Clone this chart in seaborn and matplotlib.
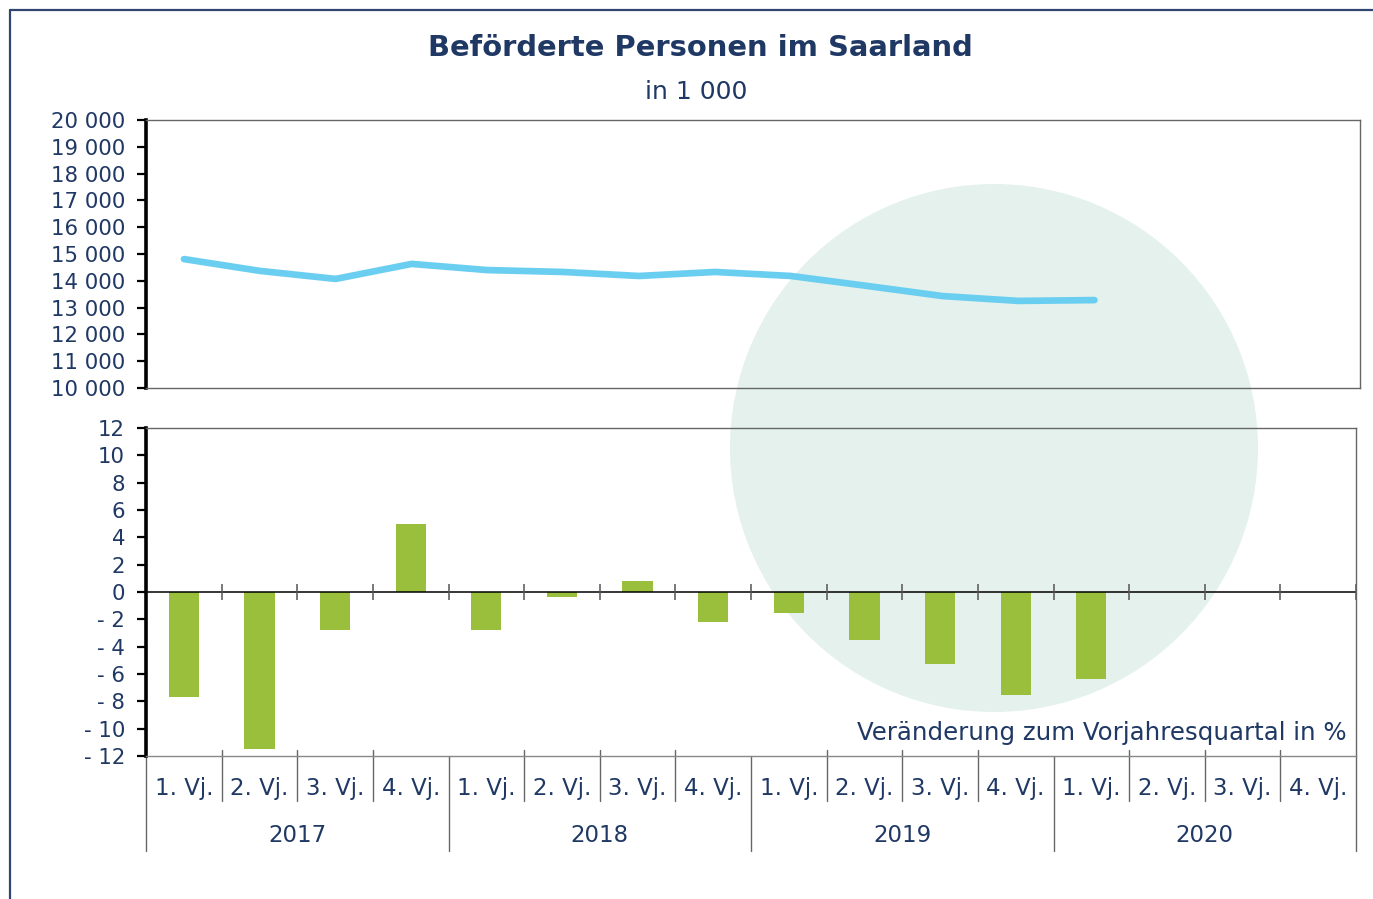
import numpy as np
import pandas as pd
import matplotlib
matplotlib.use("Agg")
import matplotlib.pyplot as plt
import matplotlib.transforms as mtransforms
from matplotlib.patches import Ellipse
from matplotlib.lines import Line2D
import seaborn as sns

# ---- data ----
years = ["2017", "2018", "2019", "2020"]
quarters = ["1. Vj.", "2. Vj.", "3. Vj.", "4. Vj."]
passengers = [14810, 14370, 14070, 14630, 14400, 14330, 14180, 14330,
              14180, 13810, 13430, 13250, 13280]
change_pct = [-7.7, -11.5, -2.8, 5.0, -2.8, -0.4, 0.8, -2.2,
              -1.5, -3.5, -5.3, -7.5, -6.4]
y_ticks_top = list(range(10000, 20001, 1000))
y_ticks_bottom = list(range(-12, 13, 2))
title = "Beförderte Personen im Saarland"
subtitle = "in 1 000"
note = "Veränderung zum Vorjahresquartal in %"

periods = [f"{y} {q}" for y in years for q in quarters]
n = len(periods)
line_df = pd.DataFrame({"pos": np.arange(len(passengers)), "value": passengers})
bar_df = pd.DataFrame({"period": periods[:len(change_pct)], "change": change_pct})

# ---- style ----
sns.set_style("white")
plt.rcParams["font.family"] = ["DejaVu Sans"]
NAVY = "#1f3864"
BAR = "#9abf3c"
LINE = "#6acef0"
CIRCLE = "#e4f1ec"
GREY = "#666666"

W, H = 1373, 899
fig = plt.figure(figsize=(W / 100, H / 100), dpi=100)
fig.patch.set_facecolor("white")


def fx(px):
    return px / W


def fy(py):
    return 1 - py / H


# decorative circle behind
circ = Ellipse((fx(994), fy(448)), width=2 * 264 / W, height=2 * 264 / H,
               transform=fig.transFigure, facecolor=CIRCLE, edgecolor="none", zorder=0.5)
fig.add_artist(circ)

# outer frame (top & left)
fig.add_artist(Line2D([fx(9.5), fx(9.5)], [-0.1, fy(9.5)], color="#2f4670", lw=1.6,
                      transform=fig.transFigure, zorder=3))
fig.add_artist(Line2D([fx(9.5), 1.1], [fy(9.5), fy(9.5)], color="#2f4670", lw=1.6,
                      transform=fig.transFigure, zorder=3))

ax1 = fig.add_axes([fx(146), fy(388), fx(1360 - 146), (388 - 120) / H])
ax2 = fig.add_axes([fx(146), fy(756), fx(1356 - 146), (756 - 428) / H])
for ax in (ax1, ax2):
    ax.set_zorder(1)
    ax.patch.set_alpha(0)

# ---- top: line ----
sns.lineplot(data=line_df, x="pos", y="value", ax=ax1, color=LINE, linewidth=4.8,
             solid_capstyle="round", solid_joinstyle="round")
ax1.set_xlim(-0.5, n - 0.5)
ax1.set_ylim(10000, 20000)
ax1.set_yticks(y_ticks_top)
ax1.set_yticklabels([f"{v:,}".replace(",", " ") for v in y_ticks_top])
ax1.set_xticks([])
ax1.set_xlabel("")
ax1.set_ylabel("")

# ---- bottom: bars ----
sns.barplot(data=bar_df, x="period", y="change", order=periods, ax=ax2, color=BAR,
            saturation=1, width=0.4, errorbar=None, edgecolor="none")
ax2.set_xlim(-0.5, n - 0.5)
ax2.set_ylim(-12, 12)
ax2.set_yticks(y_ticks_bottom)
ax2.set_yticklabels([f"- {abs(v)}" if v < 0 else f"{v}" for v in y_ticks_bottom])
ax2.set_xticks([])
ax2.set_xlabel("")
ax2.set_ylabel("")
ax2.axhline(0, color="black", lw=1.1, zorder=3)
bounds = np.arange(n) + 0.5
ax2.vlines(bounds, -0.6, 0.6, color="#555555", lw=1.1, zorder=3)

for ax in (ax1, ax2):
    for side in ("top", "right", "bottom"):
        ax.spines[side].set_color(GREY)
        ax.spines[side].set_linewidth(1.0)
    ax.spines["left"].set_color("black")
    ax.spines["left"].set_linewidth(2.6)
    ax.tick_params(axis="y", direction="out", length=6.5, width=1.6, color="black",
                   labelcolor=NAVY, labelsize=15.3, pad=8.5, left=True)
ax2.spines["bottom"].set_color("#888888")

# category axis (two levels)
trans = mtransforms.blended_transform_factory(ax2.transData, ax2.transAxes)
axh = 756 - 428


def ay(py):
    return (756 - py) / axh


labels_q = [q for y in years for q in quarters]
for i, lab in enumerate(labels_q):
    ax2.text(i, ay(789), lab, transform=trans, ha="center", va="center",
             fontsize=16.5, color=NAVY, clip_on=False)
for j, y in enumerate(years):
    ax2.text(j * 4 + 1.5, ay(835), y, transform=trans, ha="center", va="center",
             fontsize=16.5, color=NAVY, clip_on=False)
for k in range(n + 1):
    x = k - 0.5
    if k % 4 == 0:
        ax2.plot([x, x], [ay(756), ay(851)], transform=trans, color=GREY, lw=1.0, clip_on=False)
    else:
        ax2.plot([x, x], [ay(750), ay(801)], transform=trans, color=GREY, lw=1.0, clip_on=False)

# texts
fig.text(fx(700), fy(48), title, ha="center", va="center", fontsize=20.9,
         fontweight="bold", color=NAVY)
fig.text(fx(696), fy(92), subtitle, ha="center", va="center", fontsize=18, color=NAVY)
fig.text(fx(1347), fy(733), note, ha="right", va="center", fontsize=17.6, color=NAVY, zorder=4)

fig.savefig("out.png", dpi=100)
